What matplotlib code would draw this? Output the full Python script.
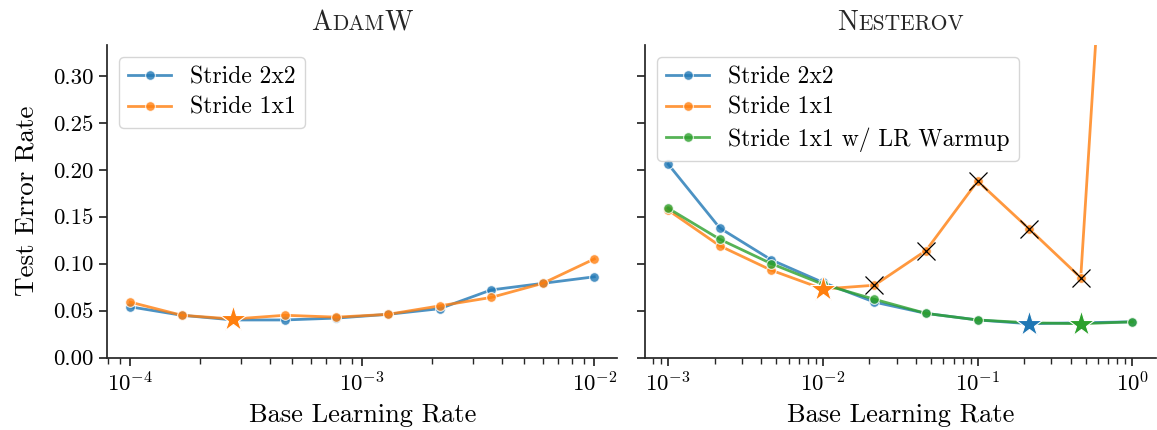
import numpy as np
import matplotlib
matplotlib.use("Agg")
import matplotlib.pyplot as plt
from matplotlib.offsetbox import TextArea, HPacker, AnchoredOffsetbox

plt.rcParams['font.family'] = ['cmr10', 'DejaVu Serif']
plt.rcParams['mathtext.fontset'] = 'cm'
plt.rcParams['axes.formatter.use_mathtext'] = True
plt.rcParams['axes.unicode_minus'] = False

# ---------------- data ----------------
adam_lr = np.logspace(-4, -2, 10)
adam_s2 = [0.054, 0.045, 0.040, 0.040, 0.042, 0.046, 0.052, 0.072, 0.079, 0.086]
adam_s1 = [0.059, 0.045, 0.041, 0.045, 0.043, 0.046, 0.055, 0.064, 0.079, 0.105]
adam_best_s1 = 2

nest_lr = np.logspace(-3, 0, 10)
nest_s2 = [0.206, 0.138, 0.104, 0.080, 0.059, 0.047, 0.040, 0.036, 0.037, 0.038]
nest_s1 = [0.157, 0.119, 0.093, 0.073, 0.077, 0.114, 0.188, 0.137, 0.085, 0.95]
nest_s1w = [0.159, 0.126, 0.100, 0.078, 0.062, 0.047, 0.040, 0.037, 0.036, 0.038]
nest_best_s2 = 7
nest_best_s1 = 3
nest_best_s1w = 8
nest_s1_unstable = [4, 5, 6, 7, 8, 9]

labels = ['Stride 2x2', 'Stride 1x1', 'Stride 1x1 w/ LR Warmup']
colors = ['#1f77b4', '#ff7f0e', '#2ca02c']
yticks = [0.00, 0.05, 0.10, 0.15, 0.20, 0.25, 0.30]

fig = plt.figure(figsize=(11.57, 4.30), dpi=100)
W, H = 1157, 430
axL = fig.add_axes([107/W, (H-357.5)/H, 510.5/W, 312.5/H])
axR = fig.add_axes([645/W, (H-357.5)/H, 510.5/W, 312.5/H], sharey=axL)

def series(ax, x, y, c, lab):
    ax.plot(x, y, color=c, alpha=0.8, lw=2, marker='o', ms=7,
            mfc=c, mec='white', mew=0.8, label=lab, zorder=2)

def star(ax, x, y, c):
    ax.plot([x], [y], marker='*', ms=20, color=c, mec='white', mew=0.8,
            ls='none', zorder=4)

series(axL, adam_lr, adam_s2, colors[0], labels[0])
series(axL, adam_lr, adam_s1, colors[1], labels[1])
star(axL, adam_lr[adam_best_s1], adam_s1[adam_best_s1], colors[1])

series(axR, nest_lr, nest_s2, colors[0], labels[0])
series(axR, nest_lr, nest_s1, colors[1], labels[1])
series(axR, nest_lr, nest_s1w, colors[2], labels[2])
axR.plot(nest_lr[nest_s1_unstable], np.array(nest_s1)[nest_s1_unstable],
         ls='none', marker='x', ms=13, mew=0.9, color='black', zorder=3)
star(axR, nest_lr[nest_best_s1], nest_s1[nest_best_s1], colors[1])
star(axR, nest_lr[nest_best_s2], nest_s2[nest_best_s2], colors[0])
star(axR, nest_lr[nest_best_s1w], nest_s1w[nest_best_s1w], colors[2])

for ax in (axL, axR):
    ax.set_xscale('log')
    ax.set_ylim(0, 0.333)
    ax.set_yticks(yticks)
    ax.spines['top'].set_visible(False)
    ax.spines['right'].set_visible(False)
    for s in ('left', 'bottom'):
        ax.spines[s].set_linewidth(1.25)
        ax.spines[s].set_color('#262626')
    ax.tick_params(which='major', length=6, width=1.25, color='#262626')
    ax.tick_params(axis='x', which='major', labelsize=16.5)
    ax.tick_params(axis='y', which='major', labelsize=16.5)
    ax.tick_params(which='minor', length=4, width=1.0, color='#262626')
    ax.set_xlabel('Base Learning Rate', fontsize=19, labelpad=6)
    ax.legend(loc='upper left', fontsize=17, frameon=True, fancybox=True,
              framealpha=0.8, edgecolor='#cccccc', handlelength=1.8,
              labelspacing=0.35, borderaxespad=0.5)

axL.set_xlim(10**-4.1, 10**-1.9)
axR.set_xlim(10**-3.15, 10**0.15)
axL.yaxis.set_major_formatter(matplotlib.ticker.FormatStrFormatter('%.2f'))
axL.set_ylabel('Test Error Rate', fontsize=19.5, labelpad=11)
plt.setp(axR.get_yticklabels(), visible=False)

def smallcaps_title(ax, parts):
    boxes = [TextArea(t, textprops=dict(fontsize=sz, color='#262626')) for t, sz in parts]
    pack = HPacker(children=boxes, align='baseline', pad=0, sep=0)
    ab = AnchoredOffsetbox(loc='lower center', child=pack, frameon=False,
                           bbox_to_anchor=(0.5, 1.03), bbox_transform=ax.transAxes,
                           borderpad=0, pad=0)
    ax.add_artist(ab)

smallcaps_title(axL, [('A', 20), ('DAM', 15.5), ('W', 20)])
smallcaps_title(axR, [('N', 20), ('ESTEROV', 15.5)])

fig.savefig('out.png', dpi=100)
